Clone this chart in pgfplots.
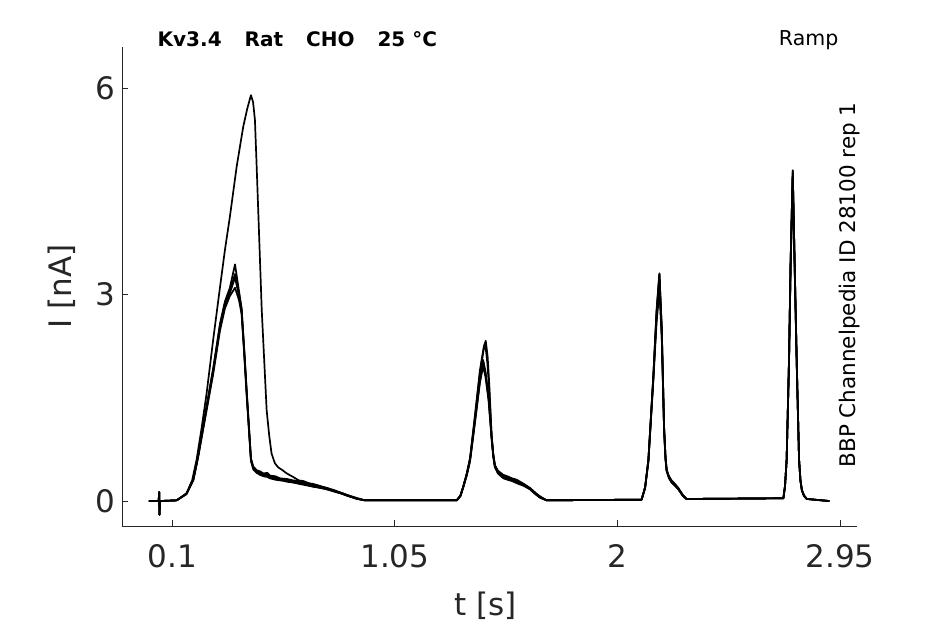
\documentclass[border=0pt]{standalone}
\usepackage{fontspec}
\setmainfont{DejaVu Sans}
\usepackage{pgfplots}
\pgfplotsset{compat=1.18}
\definecolor{axgray}{rgb}{0.15,0.15,0.15}
\begin{document}
\begin{tikzpicture}[x=1pt,y=1pt]
\path[use as bounding box] (0,0) rectangle (945,624);
\begin{axis}[
  at={(122.3pt,98pt)}, anchor=south west,
  scale only axis, width=734.4pt, height=479pt,
  xmin=-0.113, xmax=3.021, ymin=-0.363, ymax=6.60,
  axis x line*=bottom, axis y line*=left,
  axis line style={draw=axgray, line width=0.8pt},
  xtick={0.1,1.05,2,2.95}, xticklabels={0.1,1.05,2,2.95},
  ytick={0,3,6}, yticklabels={0,3,6},
  /pgf/number format/assume math mode=true,
  tick align=inside, major tick length=6pt,
  tick style={draw=axgray, line width=0.8pt},
  ticklabel style={font=\fontsize{31}{36}\selectfont, text=axgray},
  xticklabel style={yshift=-15pt},
  yticklabel style={xshift=-4pt},
  xlabel={t [s]}, ylabel={I [nA]},
  label style={font=\fontsize{31}{36}\selectfont, text=axgray},
  xlabel style={at={(axis description cs:0.495,-0.1858)}, anchor=base},
  ylabel style={at={(axis description cs:-0.0689,0.5)}, anchor=base, rotate=0},
  cycle list={{black, mark=none}},
  every axis plot/.append style={line width=1.7pt, line join=round},
]
% large first-sweep trace
\addplot coordinates {(0,0) (0.042,0) (0.0445,0.13) (0.0455,-0.2) (0.048,0) (0.119,0.01) (0.16,0.1) (0.185,0.3) (0.204,0.6) (0.225,1.05) (0.247,1.57) (0.275,2.35) (0.304,3.11) (0.325,3.65) (0.346,4.13) (0.375,4.86) (0.403,5.44) (0.42,5.7) (0.436,5.90) (0.445,5.8) (0.453,5.54) (0.46,4.9) (0.467,4.23) (0.482,2.78) (0.503,1.32) (0.514,0.95) (0.524,0.69) (0.538,0.55) (0.552,0.49) (0.57,0.45) (0.585,0.41) (0.60,0.38) (0.616,0.35) (0.64,0.3) (0.66,0.29) (0.69,0.25) (0.73,0.21) (0.76,0.19) (0.79,0.15) (0.82,0.12) (0.844,0.09) (0.88,0.04) (0.922,0.01) (1.314,0.01) (1.33,0.08) (1.342,0.21) (1.357,0.4) (1.371,0.62) (1.392,1.25) (1.413,1.9) (1.43,2.25) (1.438,2.33) (1.446,2.1) (1.453,1.7) (1.463,0.95) (1.47,0.68) (1.477,0.52) (1.49,0.43) (1.513,0.37) (1.54,0.33) (1.57,0.29) (1.6,0.24) (1.627,0.18) (1.65,0.11) (1.669,0.06) (1.698,0.01) (2.103,0.02) (2.118,0.2) (2.132,0.6) (2.153,1.81) (2.167,2.78) (2.179,3.31) (2.189,2.53) (2.199,1.08) (2.205,0.65) (2.21,0.45) (2.22,0.35) (2.231,0.29) (2.245,0.24) (2.26,0.18) (2.28,0.08) (2.295,0.03) (2.708,0.04) (2.715,0.22) (2.722,0.6) (2.732,2.05) (2.739,3.5) (2.748,4.81) (2.756,3.5) (2.765,2.05) (2.775,0.6) (2.781,0.3) (2.787,0.16) (2.796,0.08) (2.808,0.03) (2.904,0)};
% smaller sweeps
\addplot coordinates {(0,0) (0.042,0) (0.0445,0.13) (0.0455,-0.2) (0.048,0) (0.119,0.01) (0.161,0.11) (0.19,0.31) (0.21,0.65) (0.232,1.08) (0.275,1.92) (0.304,2.58) (0.325,2.9) (0.346,3.1) (0.368,3.44) (0.385,3.05) (0.396,2.8) (0.407,2.2) (0.418,1.57) (0.436,0.62) (0.446,0.5) (0.46,0.45) (0.475,0.43) (0.49,0.40) (0.505,0.41) (0.517,0.37) (0.54,0.36) (0.56,0.33) (0.59,0.32) (0.616,0.30) (0.64,0.29) (0.67,0.26) (0.70,0.25) (0.73,0.22) (0.76,0.19) (0.79,0.16) (0.82,0.12) (0.844,0.09) (0.89,0.04) (0.922,0.01) (1.314,0.01) (1.33,0.08) (1.342,0.21) (1.357,0.4) (1.371,0.62) (1.392,1.22) (1.413,1.85) (1.43,2.22) (1.436,2.28) (1.445,2.0) (1.453,1.6) (1.463,0.95) (1.47,0.68) (1.477,0.52) (1.49,0.44) (1.513,0.38) (1.53,0.36) (1.55,0.33) (1.57,0.31) (1.6,0.25) (1.627,0.19) (1.65,0.12) (1.669,0.07) (1.698,0.01) (2.103,0.02) (2.118,0.2) (2.132,0.6) (2.153,1.8) (2.167,2.75) (2.179,3.3) (2.189,2.5) (2.199,1.07) (2.205,0.64) (2.21,0.45) (2.22,0.36) (2.231,0.3) (2.245,0.25) (2.26,0.19) (2.28,0.08) (2.295,0.03) (2.708,0.04) (2.715,0.22) (2.722,0.6) (2.732,2.02) (2.739,3.47) (2.748,4.78) (2.756,3.47) (2.765,2.02) (2.775,0.6) (2.781,0.3) (2.787,0.16) (2.796,0.08) (2.808,0.03) (2.904,0)};
\addplot coordinates {(0,0) (0.042,0) (0.0445,0.13) (0.0455,-0.2) (0.048,0) (0.119,0.01) (0.161,0.11) (0.19,0.31) (0.21,0.64) (0.232,1.06) (0.275,1.88) (0.304,2.52) (0.325,2.84) (0.346,3.02) (0.368,3.25) (0.385,2.98) (0.396,2.76) (0.407,2.18) (0.418,1.55) (0.436,0.6) (0.446,0.47) (0.46,0.42) (0.475,0.40) (0.49,0.37) (0.505,0.36) (0.517,0.34) (0.54,0.33) (0.56,0.31) (0.59,0.28) (0.616,0.27) (0.64,0.26) (0.67,0.24) (0.70,0.21) (0.73,0.2) (0.76,0.17) (0.79,0.14) (0.82,0.11) (0.844,0.08) (0.89,0.03) (0.922,0.01) (1.314,0.01) (1.33,0.07) (1.342,0.2) (1.357,0.38) (1.371,0.59) (1.392,1.16) (1.413,1.74) (1.427,2.02) (1.437,1.85) (1.45,1.5) (1.463,0.92) (1.47,0.66) (1.477,0.5) (1.49,0.41) (1.513,0.34) (1.53,0.33) (1.55,0.3) (1.57,0.27) (1.6,0.23) (1.627,0.17) (1.65,0.1) (1.669,0.05) (1.698,0.01) (2.103,0.02) (2.118,0.19) (2.132,0.58) (2.153,1.77) (2.167,2.68) (2.179,3.2) (2.189,2.42) (2.199,1.04) (2.205,0.62) (2.21,0.44) (2.22,0.34) (2.231,0.27) (2.245,0.23) (2.26,0.17) (2.28,0.07) (2.295,0.03) (2.708,0.04) (2.715,0.21) (2.722,0.6) (2.732,2.0) (2.739,3.44) (2.748,4.75) (2.756,3.44) (2.765,2.0) (2.775,0.6) (2.781,0.29) (2.787,0.16) (2.796,0.08) (2.808,0.03) (2.904,0)};
\addplot coordinates {(0,0) (0.042,0) (0.0445,0.13) (0.0455,-0.2) (0.048,0) (0.119,0.01) (0.161,0.1) (0.19,0.3) (0.21,0.62) (0.232,1.04) (0.275,1.85) (0.304,2.48) (0.325,2.8) (0.346,2.98) (0.368,3.1) (0.385,2.92) (0.396,2.72) (0.407,2.15) (0.418,1.52) (0.436,0.58) (0.446,0.46) (0.46,0.41) (0.475,0.38) (0.49,0.36) (0.505,0.35) (0.517,0.33) (0.54,0.31) (0.56,0.3) (0.59,0.29) (0.616,0.27) (0.64,0.25) (0.67,0.23) (0.70,0.21) (0.73,0.19) (0.76,0.17) (0.79,0.14) (0.82,0.11) (0.844,0.08) (0.89,0.03) (0.922,0.01) (1.314,0.01) (1.33,0.07) (1.342,0.2) (1.357,0.37) (1.371,0.58) (1.392,1.14) (1.413,1.72) (1.427,1.96) (1.437,1.8) (1.45,1.46) (1.463,0.9) (1.47,0.64) (1.477,0.49) (1.49,0.4) (1.513,0.33) (1.53,0.31) (1.55,0.29) (1.57,0.26) (1.6,0.22) (1.627,0.17) (1.65,0.1) (1.669,0.05) (1.698,0.01) (2.103,0.02) (2.118,0.19) (2.132,0.57) (2.153,1.75) (2.167,2.6) (2.179,3.05) (2.189,2.38) (2.199,1.02) (2.205,0.6) (2.21,0.43) (2.22,0.33) (2.231,0.27) (2.245,0.22) (2.26,0.17) (2.28,0.07) (2.295,0.03) (2.708,0.04) (2.715,0.21) (2.722,0.59) (2.732,1.98) (2.739,3.4) (2.748,4.7) (2.756,3.4) (2.765,1.98) (2.775,0.59) (2.781,0.29) (2.787,0.15) (2.796,0.07) (2.808,0.03) (2.904,0)};
\addplot coordinates {(0,0) (0.042,0) (0.0445,0.13) (0.0455,-0.2) (0.048,0) (0.119,0.01) (0.161,0.11) (0.19,0.32) (0.21,0.66) (0.232,1.1) (0.275,1.93) (0.304,2.56) (0.325,2.88) (0.346,3.06) (0.368,3.3) (0.385,3.02) (0.396,2.8) (0.407,2.22) (0.418,1.6) (0.436,0.61) (0.446,0.49) (0.46,0.44) (0.475,0.42) (0.49,0.39) (0.505,0.38) (0.517,0.36) (0.54,0.34) (0.56,0.32) (0.59,0.31) (0.616,0.29) (0.64,0.27) (0.67,0.25) (0.70,0.23) (0.73,0.21) (0.76,0.18) (0.79,0.15) (0.82,0.12) (0.844,0.09) (0.89,0.04) (0.922,0.01) (1.314,0.01) (1.33,0.08) (1.342,0.21) (1.357,0.39) (1.371,0.61) (1.392,1.19) (1.413,1.78) (1.427,2.05) (1.437,1.88) (1.45,1.52) (1.463,0.94) (1.47,0.67) (1.477,0.51) (1.49,0.42) (1.513,0.36) (1.53,0.35) (1.55,0.32) (1.57,0.29) (1.6,0.24) (1.627,0.18) (1.65,0.11) (1.669,0.06) (1.698,0.01) (2.103,0.02) (2.118,0.2) (2.132,0.59) (2.153,1.79) (2.167,2.72) (2.179,3.28) (2.189,2.48) (2.199,1.06) (2.205,0.63) (2.21,0.45) (2.22,0.35) (2.231,0.28) (2.245,0.24) (2.26,0.18) (2.28,0.08) (2.295,0.03) (2.708,0.04) (2.715,0.22) (2.722,0.6) (2.732,2.03) (2.739,3.48) (2.748,4.8) (2.756,3.48) (2.765,2.03) (2.775,0.6) (2.781,0.3) (2.787,0.16) (2.796,0.08) (2.808,0.03) (2.904,0)};
\end{axis}
\node[anchor=base west, inner sep=0, font=\fontsize{20}{24}\selectfont\bfseries] at (157.5,577.3) {Kv3.4\hspace{23pt}Rat\hspace{23pt}CHO\hspace{23pt}25 °C};
\node[anchor=base east, inner sep=0, font=\fontsize{20.5}{24}\selectfont] at (838.5,578) {Ramp};
\node[rotate=90, anchor=base, inner sep=0, font=\fontsize{21.5}{26}\selectfont] at (855,339) {BBP Channelpedia ID 28100 rep 1};
\end{tikzpicture}
\end{document}
